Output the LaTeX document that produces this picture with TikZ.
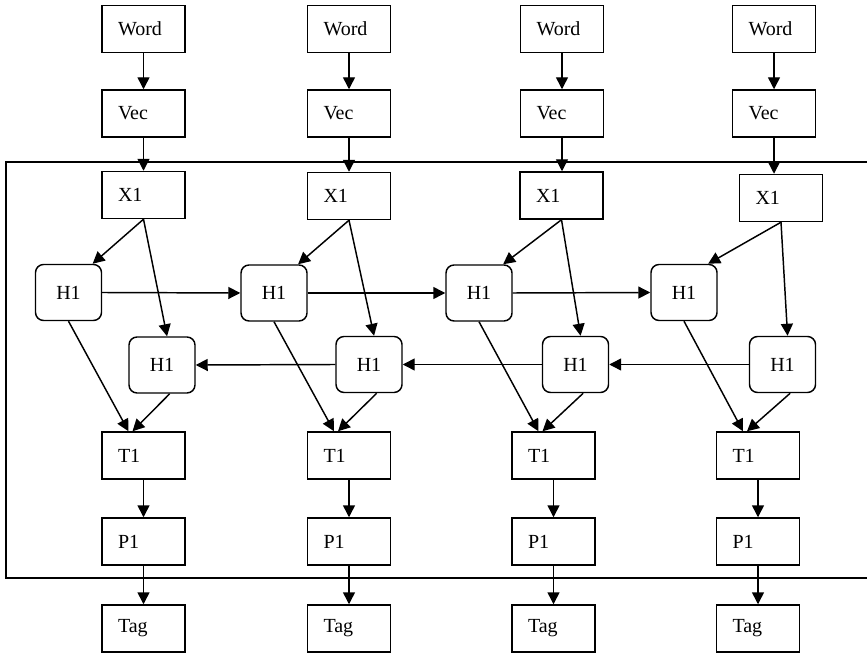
\documentclass[tikz,border=0pt]{standalone}
\usepackage{fontspec}
\setmainfont{Liberation Serif}
\usetikzlibrary{arrows.meta, calc}

\begin{document}
\begin{tikzpicture}[
    x=0.75pt, y=-0.75pt,
    font=\fontsize{15}{18}\selectfont,
    box/.style={rectangle, draw, line width=1.1pt, minimum height=35.25pt, inner xsep=12pt, text width=38.25pt, align=left},
    hidden/.style={rectangle, draw, line width=1.1pt, rounded corners=6pt, minimum width=49.5pt, minimum height=42pt, align=center},
    arrow/.style={-{Triangle[length=9pt, width=9pt]}, line width=1.1pt}
]
\useasboundingbox (0,0) rectangle (867,655);

% Column 1
\node[box] (Word1) at (143.5,29) {Word};
\node[box] (Vec1) at (143.5,113.5) {Vec};
\node[box] (Input1) at (143.5,195) {X1};
\node[hidden] (Fwd1) at (68.5,292.5) {H1};
\node[hidden] (Bwd1) at (162,365) {H1};
\node[box] (Out1) at (143.5,455.5) {T1};
\node[box] (Prob1) at (143.5,541.5) {P1};
\node[box] (Tag1) at (143.5,628.5) {Tag};

% Column 2
\node[box] (Word2) at (349,29) {Word};
\node[box] (Vec2) at (349,113.5) {Vec};
\node[box] (Input2) at (349,196) {X1};
\node[hidden] (Fwd2) at (274,293) {H1};
\node[hidden] (Bwd2) at (369,364.5) {H1};
\node[box] (Out2) at (349,455.5) {T1};
\node[box] (Prob2) at (349,541.5) {P1};
\node[box] (Tag2) at (349,628.5) {Tag};

% Column 3
\node[box] (Word3) at (562,29) {Word};
\node[box] (Vec3) at (562,113.5) {Vec};
\node[box] (Input3) at (561.5,195.5) {X1};
\node[hidden] (Fwd3) at (479,293) {H1};
\node[hidden] (Bwd3) at (575.5,364.5) {H1};
\node[box] (Out3) at (553.5,455.5) {T1};
\node[box] (Prob3) at (553.5,541.5) {P1};
\node[box] (Tag3) at (553.5,628.5) {Tag};

% Column 4
\node[box] (Word4) at (774,29) {Word};
\node[box] (Vec4) at (774,113.5) {Vec};
\node[box] (Input4) at (781,198) {X1};
\node[hidden] (Fwd4) at (684,292.5) {H1};
\node[hidden] (Bwd4) at (782.5,364.5) {H1};
\node[box] (Out4) at (758,455.5) {T1};
\node[box] (Prob4) at (758,541.5) {P1};
\node[box] (Tag4) at (758,628.5) {Tag};

% Frame round the network
\draw[line width=1.1pt] (867,162) -- (6,162) -- (6,578) -- (867,578);

% Edges in each column
\draw[arrow] (Word1) -- (Vec1);
\draw[arrow] (Vec1) -- (Vec1 |- Input1.north);
\draw[arrow] (Input1.south) -- (Fwd1.50);
\draw[arrow] (Input1.south) -- (Bwd1.80);
\draw[arrow] (Fwd1.south) -- ($(Out1.north)+(-15,0)$);
\draw[arrow] (Bwd1.-75) -- ($(Out1.north)+(-11,0)$);
\draw[arrow] (Out1) -- (Prob1);
\draw[arrow] (Prob1) -- (Tag1);

\draw[arrow] (Word2) -- (Vec2);
\draw[arrow] (Vec2) -- (Vec2 |- Input2.north);
\draw[arrow] (Input2.south) -- (Fwd2.50);
\draw[arrow] (Input2.south) -- (Bwd2.80);
\draw[arrow] (Fwd2.south) -- ($(Out2.north)+(-15,0)$);
\draw[arrow] (Bwd2.-75) -- ($(Out2.north)+(-11,0)$);
\draw[arrow] (Out2) -- (Prob2);
\draw[arrow] (Prob2) -- (Tag2);

\draw[arrow] (Word3) -- (Vec3);
\draw[arrow] (Vec3) -- (Vec3 |- Input3.north);
\draw[arrow] (Input3.south) -- (Fwd3.50);
\draw[arrow] (Input3.south) -- (Bwd3.80);
\draw[arrow] (Fwd3.south) -- ($(Out3.north)+(-15,0)$);
\draw[arrow] (Bwd3.-75) -- ($(Out3.north)+(-11,0)$);
\draw[arrow] (Out3) -- (Prob3);
\draw[arrow] (Prob3) -- (Tag3);

\draw[arrow] (Word4) -- (Vec4);
\draw[arrow] (Vec4) -- (Vec4 |- Input4.north);
\draw[arrow] (Input4.south) -- (Fwd4.50);
\draw[arrow] (Input4.south) -- (Bwd4.80);
\draw[arrow] (Fwd4.south) -- ($(Out4.north)+(-15,0)$);
\draw[arrow] (Bwd4.-75) -- ($(Out4.north)+(-11,0)$);
\draw[arrow] (Out4) -- (Prob4);
\draw[arrow] (Prob4) -- (Tag4);

% Forward and backward hidden chains
\draw[arrow] (Fwd1.east) -- (Fwd2.west);
\draw[arrow] (Fwd2.east) -- (Fwd3.west);
\draw[arrow] (Fwd3.east) -- (Fwd4.west);
\draw[arrow] (Bwd4.west) -- (Bwd3.east);
\draw[arrow] (Bwd3.west) -- (Bwd2.east);
\draw[arrow] (Bwd2.west) -- (Bwd1.east);

\end{tikzpicture}
\end{document}
